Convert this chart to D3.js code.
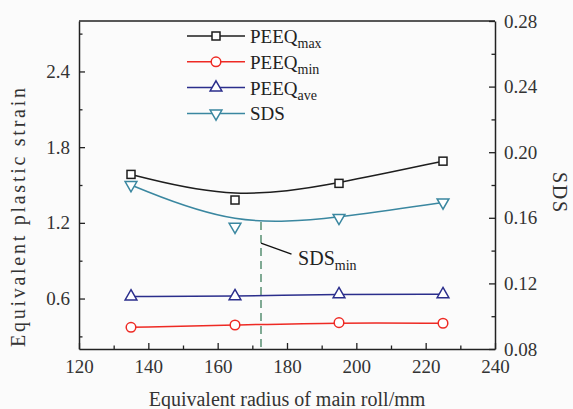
<!DOCTYPE html>
<html>
<head>
<meta charset="utf-8">
<script src="https://cdnjs.cloudflare.com/ajax/libs/d3/7.8.5/d3.min.js"></script>
<style>
  body { margin: 0; background: #fbfbfb; }
  svg, svg text { font-family: "Liberation Serif", "Times New Roman", serif; }
  .axis text { font-size: 19px; fill: #333; font-family: "Liberation Serif", "Times New Roman", serif; }
  .axis path, .axis line { stroke: #222; }
</style>
</head>
<body>
<div id="chart"></div>
<script>
// data
let radius  = [135, 165, 195, 225];
let peeqMax = [1.584, 1.381, 1.513, 1.689];
let peeqMin = [0.372, 0.390, 0.409, 0.404];
let peeqAve = [0.616, 0.618, 0.634, 0.634];
let sds     = [0.180, 0.1546, 0.160, 0.1694];

// position of the SDS minimum (dashed marker)
let sdsMinRadius = 172.5;
let sdsMinValue = 0.1575;

// tick values
let xMajor = [120, 140, 160, 180, 200, 220, 240];
let xMinor = [130, 150, 170, 190, 210, 230];
let yMajor = [0.6, 1.2, 1.8, 2.4];
let yMinor = [0.3, 0.9, 1.5, 2.1, 2.7];
let y2Major = [0.08, 0.12, 0.16, 0.20, 0.24, 0.28];
let y2Minor = [0.10, 0.14, 0.18, 0.22, 0.26];

let config = {
    svg: {width: 573, height: 409},
    plot: {x: 79, y: 21, width: 416, height: 328}
};

let svg = d3.select('#chart').append('svg')
    .attr('width', config.svg.width)
    .attr('height', config.svg.height);

let plot = svg.append('g')
    .attr('transform', `translate(${config.plot.x},${config.plot.y})`);

let x = d3.scaleLinear().domain([120, 240]).range([0, config.plot.width]);
let y = d3.scaleLinear().domain([0.2, 2.8]).range([config.plot.height, 0]);
let y2 = d3.scaleLinear().domain([0.08, 0.28]).range([config.plot.height, 0]);

// frame top line
plot.append('line')
    .attr('x1', 0).attr('x2', config.plot.width)
    .attr('y1', 0).attr('y2', 0)
    .attr('stroke', '#222').attr('stroke-width', 1.5);

// axes with inward ticks
let fmt1 = d3.format('.1f'), fmt2 = d3.format('.2f');

let gx = plot.append('g').attr('class', 'axis')
    .attr('transform', `translate(0,${config.plot.height})`)
    .call(d3.axisBottom(x).tickValues(xMajor).tickSize(-6).tickPadding(11).tickSizeOuter(0));
gx.append('g').call(d3.axisBottom(x).tickValues(xMinor).tickSize(-3.5).tickFormat(''))
    .call(g => g.select('.domain').remove());

let gy = plot.append('g').attr('class', 'axis')
    .call(d3.axisLeft(y).tickValues(yMajor).tickFormat(fmt1).tickSize(-6).tickPadding(9).tickSizeOuter(0));
gy.append('g').call(d3.axisLeft(y).tickValues(yMinor).tickSize(-3.5).tickFormat(''))
    .call(g => g.select('.domain').remove());

let gy2 = plot.append('g').attr('class', 'axis')
    .attr('transform', `translate(${config.plot.width},0)`)
    .call(d3.axisRight(y2).tickValues(y2Major).tickFormat(fmt2).tickSize(-6).tickPadding(9).tickSizeOuter(0));
gy2.append('g').call(d3.axisRight(y2).tickValues(y2Minor).tickSize(-3.5).tickFormat(''))
    .call(g => g.select('.domain').remove());

plot.selectAll('.axis').attr('font-family', null);
plot.selectAll('.axis .domain').attr('stroke-width', 1.5);
plot.selectAll('.axis .tick line').attr('stroke-width', 1.3);

// axis titles
svg.append('text')
    .attr('x', 287).attr('y', 406)
    .attr('text-anchor', 'middle').attr('font-size', 20).attr('fill', '#333')
    .text('Equivalent radius of main roll/mm');

svg.append('text')
    .attr('transform', 'translate(25,347) rotate(-90)')
    .attr('font-size', 20).attr('fill', '#333')
    .attr('textLength', 259).attr('lengthAdjust', 'spacing')
    .text('Equivalent plastic strain');

svg.append('text')
    .attr('transform', 'translate(553,172) rotate(90)')
    .attr('font-size', 20).attr('fill', '#333')
    .attr('textLength', 40).attr('lengthAdjust', 'spacing')
    .text('SDS');

// series definition
let series = [
    {name: 'PEEQ', sub: 'max', values: peeqMax, scale: y, color: '#1e1e1e', marker: 'square'},
    {name: 'PEEQ', sub: 'min', values: peeqMin, scale: y, color: '#ee2a24', marker: 'circle'},
    {name: 'PEEQ', sub: 'ave', values: peeqAve, scale: y, color: '#2b2e8c', marker: 'up'},
    {name: 'SDS', sub: '', values: sds, scale: y2, color: '#3a87a0', marker: 'down'}
];

function drawMarker(g, type, color) {
    if (type === 'square') {
        g.append('rect').attr('x', -4).attr('y', -4).attr('width', 8).attr('height', 8)
            .attr('fill', '#fff').attr('stroke', color).attr('stroke-width', 1.5);
    } else if (type === 'circle') {
        g.append('circle').attr('r', 4.8)
            .attr('fill', '#fff').attr('stroke', color).attr('stroke-width', 1.5);
    } else {
        let t = d3.symbol(d3.symbolTriangle, 60)();
        g.append('path').attr('d', t)
            .attr('transform', type === 'down' ? 'rotate(180)' : null)
            .attr('fill', '#fff').attr('stroke', color).attr('stroke-width', 1.5);
    }
}

// dashed SDS-min marker
plot.append('line')
    .attr('x1', x(sdsMinRadius)).attr('x2', x(sdsMinRadius))
    .attr('y1', y2(sdsMinValue)).attr('y2', config.plot.height)
    .attr('stroke', '#3e7f5c').attr('stroke-width', 1.3)
    .attr('stroke-dasharray', '8,5');

series.forEach(s => {
    let pts = radius.map((r, i) => [r, s.values[i]]);
    let line = d3.line()
        .x(d => x(d[0]))
        .y(d => s.scale(d[1]))
        .curve(d3.curveBasis);
    plot.append('path')
        .datum(pts)
        .attr('d', line)
        .attr('fill', 'none')
        .attr('stroke', s.color)
        .attr('stroke-width', 1.5);
    plot.append('g').selectAll('g')
        .data(pts)
        .join('g')
        .attr('transform', d => `translate(${x(d[0])},${s.scale(d[1])})`)
        .each(function() { drawMarker(d3.select(this), s.marker, s.color); });
});

// SDSmin annotation
plot.append('line')
    .attr('x1', x(sdsMinRadius)).attr('y1', y2(0.1446))
    .attr('x2', x(181.3)).attr('y2', y2(0.1379))
    .attr('stroke', '#111').attr('stroke-width', 1.3);
let ann = plot.append('text')
    .attr('x', x(183.2)).attr('y', y2(0.1312))
    .attr('font-size', 20).attr('fill', '#222');
ann.append('tspan').text('SDS');
ann.append('tspan').attr('font-size', 14).attr('dy', 5).text('min');

// legend
let legend = svg.append('g').attr('transform', 'translate(187,36)');
series.forEach((s, i) => {
    let row = legend.append('g').attr('transform', `translate(0,${i * 25.8})`);
    row.append('line').attr('x1', 0).attr('x2', 58).attr('y1', 0).attr('y2', 0)
        .attr('stroke', s.color).attr('stroke-width', 1.5);
    drawMarker(row.append('g').attr('transform', 'translate(29,0)'), s.marker, s.color);
    let t = row.append('text').attr('x', 63).attr('y', 7)
        .attr('font-size', 19).attr('fill', '#222');
    t.append('tspan').text(s.name);
    if (s.sub) t.append('tspan').attr('font-size', 14).attr('dy', 5).text(s.sub);
});
</script>
</body>
</html>
